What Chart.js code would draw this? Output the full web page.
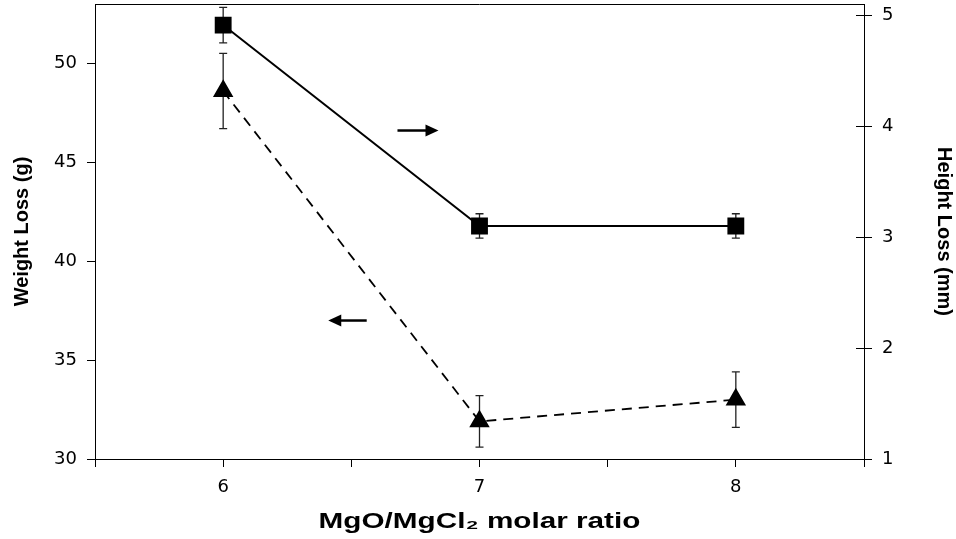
<!DOCTYPE html>
<html><head><meta charset="utf-8">
<script src="https://cdn.jsdelivr.net/npm/chart.js@4/dist/chart.umd.min.js"></script>
<style>html,body{margin:0;padding:0;background:#fff}#wrap{width:956px;height:539px}</style>
</head><body><div id="wrap"><canvas id="c" width="956" height="539"></canvas></div>
<script>
// ---- data ----
const ratios = [6, 7, 8];
const weightLoss = [48.6, 31.9, 33.0];
const weightErr = [1.9, 1.3, 1.4];
const heightLoss = [4.91, 3.1, 3.1];
const heightErr = [0.16, 0.11, 0.11];
const xTicks = [5.5, 6, 6.5, 7, 7.5, 8, 8.5];
const leftTicks = [30, 35, 40, 45, 50];
const rightTicks = [1, 2, 3, 4, 5];

const FONT = "'Liberation Sans', Arial, sans-serif";
const TICKFONT = "'DejaVu Sans', 'Liberation Sans', sans-serif";

const errorBars = {
  id: 'errorBars',
  beforeDatasetsDraw(chart) {
    const ctx = chart.ctx;
    ctx.save();
    ctx.strokeStyle = '#222';
    ctx.lineWidth = 1.3;
    chart.data.datasets.forEach((ds) => {
      const ys = chart.scales[ds.yAxisID];
      const xs = chart.scales.x;
      ds.data.forEach((p, j) => {
        const e = ds.errors[j];
        const x = xs.getPixelForValue(p.x);
        const y1 = ys.getPixelForValue(p.y + e);
        const y2 = ys.getPixelForValue(p.y - e);
        ctx.beginPath();
        ctx.moveTo(x, y1); ctx.lineTo(x, y2);
        ctx.moveTo(x - 4, y1); ctx.lineTo(x + 4, y1);
        ctx.moveTo(x - 4, y2); ctx.lineTo(x + 4, y2);
        ctx.stroke();
      });
    });
    ctx.restore();
  }
};

const frame = {
  id: 'frame',
  afterDraw(chart, args, opts) {
    const ctx = chart.ctx, a = chart.chartArea;
    ctx.save();
    ctx.strokeStyle = '#000';
    ctx.lineWidth = 1;
    ctx.beginPath();
    ctx.moveTo(a.left, a.top + 0.5); ctx.lineTo(a.right, a.top + 0.5);
    const yr = chart.scales.yR;
    rightTicks.forEach(t => {
      const y = Math.round(yr.getPixelForValue(t)) + 0.5;
      ctx.moveTo(a.right - 8, y); ctx.lineTo(a.right, y);
    });
    ctx.stroke();
    ctx.fillStyle = '#000';
    ctx.lineWidth = 2.5;
    opts.arrows.forEach(ar => {
      const ys = chart.scales[ar.axis];
      const x1 = chart.scales.x.getPixelForValue(ar.from);
      const x2 = chart.scales.x.getPixelForValue(ar.to);
      const y = ys.getPixelForValue(ar.y);
      const dir = Math.sign(x2 - x1);
      ctx.beginPath();
      ctx.moveTo(x1, y); ctx.lineTo(x2 - dir * 10, y);
      ctx.stroke();
      ctx.beginPath();
      ctx.moveTo(x2, y); ctx.lineTo(x2 - dir * 13, y - 6); ctx.lineTo(x2 - dir * 13, y + 6);
      ctx.closePath(); ctx.fill();
    });
    ctx.restore();
  }
};

const tickFont = { family: TICKFONT, size: 18 };
const titleFont = { family: FONT, size: 20, weight: 'bold' };
const xTitleFont = { family: FONT, size: 22, weight: 'bold' };

function vFit(w) {
  return s => { s.width = w; s.paddingTop = 0; s.paddingBottom = 0; };
}

function xFit(s) {
  s.height = 80; s.paddingLeft = 0; s.paddingRight = 0;
  if (!s._stretched) {
    const orig = s.drawTitle;
    s.drawTitle = function (area) {
      const ctx = this.ctx;
      const cx = (this.left + this.right) / 2;
      ctx.save();
      ctx.translate(cx, 0); ctx.scale(1.35, 1); ctx.translate(-cx, 0);
      orig.call(this, area);
      ctx.restore();
    };
    s._stretched = true;
  }
}

new Chart(document.getElementById('c'), {
  type: 'line',
  data: {
    datasets: [
      {
        label: 'Height Loss (mm)',
        data: ratios.map((x, i) => ({ x, y: heightLoss[i] })),
        errors: heightErr,
        yAxisID: 'yR',
        borderColor: '#000', backgroundColor: '#000',
        borderWidth: 2,
        pointStyle: 'rect', pointRadius: 10.5, pointHoverRadius: 10.5,
        tension: 0, clip: false
      },
      {
        label: 'Weight Loss (g)',
        data: ratios.map((x, i) => ({ x, y: weightLoss[i] })),
        errors: weightErr,
        yAxisID: 'yL',
        borderColor: '#000', backgroundColor: '#000',
        borderWidth: 1.8, borderDash: [10, 7],
        pointStyle: 'triangle', pointRadius: 10, pointHoverRadius: 10,
        tension: 0, clip: false
      }
    ]
  },
  options: {
    responsive: false,
    devicePixelRatio: 1,
    animation: false,
    layout: { autoPadding: false, padding: { top: 4, left: 0, right: 0, bottom: 0 } },
    plugins: {
      legend: { display: false },
      tooltip: { enabled: false },
      frame: {
        arrows: [
          { axis: 'yR', y: 3.96, from: 6.68, to: 6.84 },
          { axis: 'yL', y: 37.0, from: 6.56, to: 6.41 }
        ]
      }
    },
    scales: {
      x: {
        type: 'linear', position: 'bottom', min: 5.5, max: 8.5,
        afterBuildTicks: s => { s.ticks = xTicks.map(v => ({ value: v })); },
        afterFit: xFit,
        grid: { drawOnChartArea: false, drawTicks: true, tickLength: 8, color: '#000' },
        border: { color: '#000', width: 1 },
        ticks: { font: tickFont, color: '#000', padding: 10, maxRotation: 0, autoSkip: false,
                 callback: v => Number.isInteger(v) ? String(v) : '' },
        title: { display: true, text: 'MgO/MgCl\u2082 molar ratio', font: xTitleFont, color: '#000', padding: { top: 2, bottom: 4 } }
      },
      yL: {
        type: 'linear', position: 'left', min: 30, max: 53,
        afterBuildTicks: s => { s.ticks = leftTicks.map(v => ({ value: v })); },
        afterFit: vFit(95),
        grid: { drawOnChartArea: false, drawTicks: true, tickLength: 8, color: '#000' },
        border: { color: '#000', width: 1 },
        ticks: { font: tickFont, color: '#000', padding: 10 },
        title: { display: true, text: 'Weight Loss (g)', font: titleFont, color: '#000', padding: { top: 10, bottom: 0 } }
      },
      yR: {
        type: 'linear', position: 'right', min: 1, max: 5.1,
        afterBuildTicks: s => { s.ticks = rightTicks.map(v => ({ value: v })); },
        afterFit: vFit(92),
        grid: { drawOnChartArea: false, drawTicks: true, tickLength: 8, color: '#000' },
        border: { color: '#000', width: 1 },
        ticks: { font: tickFont, color: '#000', padding: 10 },
        title: { display: true, text: 'Height Loss (mm)', font: titleFont, color: '#000', padding: { top: 0, bottom: 4 } }
      }
    }
  },
  plugins: [errorBars, frame]
});
</script>
</body></html>
